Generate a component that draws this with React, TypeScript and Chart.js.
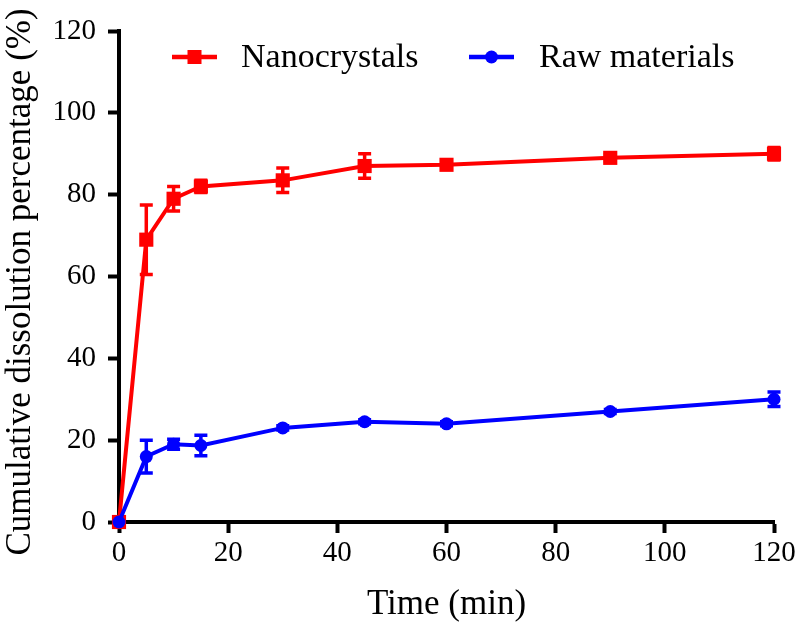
import React, { useEffect, useRef } from "react";
import { Chart, registerables } from "chart.js";

Chart.register(...registerables);

const timePoints = [0, 5, 10, 15, 30, 45, 60, 90, 120];
const nanoValues = [0, 69, 79, 82, 83.5, 87, 87.3, 89, 90];
const nanoErrors = [0, 8.5, 3, 1.5, 3, 3, 0.8, 0.8, 1.5];
const rawValues = [0, 16, 19, 18.7, 23, 24.5, 24, 27, 30];
const rawErrors = [0, 4, 1.2, 2.5, 0.5, 0.5, 0.5, 0.5, 1.8];
const xTicks = [0, 20, 40, 60, 80, 100, 120];
const yTicks = [0, 20, 40, 60, 80, 100, 120];
const seriesNames = ["Nanocrystals", "Raw materials"];
const yTitle = "Cumulative dissolution percentage (%)";
const xTitle = "Time (min)";

const FONT = '"Liberation Serif", "Times New Roman", serif';
const RED = "#ff0000";
const BLUE = "#0000ff";

const errorBarPlugin = {
  id: "errorBars",
  afterDatasetDraw(chart: any, args: any) {
    const ds = chart.data.datasets[args.index];
    const errs: number[] = ds.errorBars;
    if (!errs) return;
    const ctx = chart.ctx;
    const yScale = chart.scales.y;
    ctx.save();
    ctx.strokeStyle = ds.borderColor;
    ctx.lineWidth = 3.5;
    args.meta.data.forEach((el: any, i: number) => {
      const e = errs[i];
      if (!e) return;
      const v = ds.data[i].y;
      const yTop = yScale.getPixelForValue(v + e);
      const yBot = yScale.getPixelForValue(v - e);
      const x = el.x;
      ctx.beginPath();
      ctx.moveTo(x, yTop);
      ctx.lineTo(x, yBot);
      ctx.moveTo(x - 6.5, yTop);
      ctx.lineTo(x + 6.5, yTop);
      ctx.moveTo(x - 6.5, yBot);
      ctx.lineTo(x + 6.5, yBot);
      ctx.stroke();
    });
    ctx.restore();
  },
};

const legendPlugin = {
  id: "customLegend",
  afterDraw(chart: any) {
    const ctx = chart.ctx;
    ctx.save();
    const items = [
      { name: seriesNames[0], color: RED, x0: 172, x1: 217, tx: 241, shape: "rect" },
      { name: seriesNames[1], color: BLUE, x0: 469, x1: 514, tx: 539, shape: "circle" },
    ];
    const ly = 57;
    items.forEach((it) => {
      ctx.strokeStyle = it.color;
      ctx.fillStyle = it.color;
      ctx.lineWidth = 4.5;
      ctx.beginPath();
      ctx.moveTo(it.x0, ly);
      ctx.lineTo(it.x1, ly);
      ctx.stroke();
      const cx = (it.x0 + it.x1) / 2;
      if (it.shape === "rect") {
        ctx.fillRect(cx - 7, ly - 7, 14, 14);
      } else {
        ctx.beginPath();
        ctx.arc(cx, ly, 6.5, 0, Math.PI * 2);
        ctx.fill();
      }
      ctx.fillStyle = "#000";
      ctx.font = `34px ${FONT}`;
      ctx.textBaseline = "alphabetic";
      ctx.textAlign = "left";
      ctx.fillText(it.name, it.tx, 67);
    });
    // y axis title
    ctx.save();
    ctx.translate(21, 282);
    ctx.rotate(-Math.PI / 2);
    ctx.font = `35px ${FONT}`;
    ctx.fillStyle = "#000";
    ctx.textAlign = "center";
    ctx.textBaseline = "middle";
    ctx.fillText(yTitle, 0, 0);
    ctx.restore();
    ctx.restore();
  },
};

export default function App() {
  const canvasRef = useRef<HTMLCanvasElement | null>(null);

  useEffect(() => {
    if (!canvasRef.current) return;
    const chart = new Chart(canvasRef.current, {
      type: "line",
      data: {
        datasets: [
          {
            label: seriesNames[0],
            data: timePoints.map((t, i) => ({ x: t, y: nanoValues[i] })),
            errorBars: nanoErrors,
            borderColor: RED,
            backgroundColor: RED,
            borderWidth: 4,
            pointStyle: "rect",
            pointRadius: 10,
            pointBorderWidth: 0,
            pointBackgroundColor: RED,
            order: 1,
            clip: false,
            tension: 0,
          } as any,
          {
            label: seriesNames[1],
            data: timePoints.map((t, i) => ({ x: t, y: rawValues[i] })),
            errorBars: rawErrors,
            borderColor: BLUE,
            backgroundColor: BLUE,
            borderWidth: 4,
            pointStyle: "circle",
            pointRadius: 6.5,
            pointBorderWidth: 0,
            pointBackgroundColor: BLUE,
            order: 0,
            clip: false,
            tension: 0,
          } as any,
        ],
      },
      options: {
        animation: false,
        responsive: false,
        maintainAspectRatio: false,
        layout: { padding: { top: 31, right: 26, left: 0, bottom: 0 } },
        plugins: {
          legend: { display: false },
          tooltip: { enabled: false },
        },
        scales: {
          x: {
            type: "linear",
            min: 0,
            max: 120,
            afterBuildTicks: (s: any) => {
              s.ticks = xTicks.map((v) => ({ value: v }));
            },
            afterFit: (s: any) => {
              s.height = 106;
            },
            grid: {
              drawOnChartArea: false,
              drawTicks: true,
              tickLength: 11,
              tickWidth: 4,
              tickColor: "#000",
            },
            border: { display: true, color: "#000", width: 4 },
            ticks: {
              color: "#000",
              font: { family: FONT, size: 29 },
              padding: 3,
              maxRotation: 0,
            },
            title: {
              display: true,
              text: xTitle,
              color: "#000",
              font: { family: FONT, size: 35 },
              padding: { top: 0, bottom: 2 },
            },
          },
          y: {
            type: "linear",
            min: 0,
            max: 120,
            afterBuildTicks: (s: any) => {
              s.ticks = yTicks.map((v) => ({ value: v }));
            },
            afterFit: (s: any) => {
              s.width = 119;
            },
            grid: {
              drawOnChartArea: false,
              drawTicks: true,
              tickLength: 11,
              tickWidth: 4,
              tickColor: "#000",
            },
            border: { display: true, color: "#000", width: 4 },
            ticks: {
              color: "#000",
              font: { family: FONT, size: 29 },
              padding: 12,
            },
            title: { display: false },
          },
        },
      } as any,
      plugins: [errorBarPlugin, legendPlugin],
    });
    return () => chart.destroy();
  }, []);

  return (
    <div style={{ position: "absolute", left: 0, top: 0, width: 800, height: 628, background: "#fff" }}>
      <canvas ref={canvasRef} width={800} height={628} style={{ display: "block" }} />
    </div>
  );
}
